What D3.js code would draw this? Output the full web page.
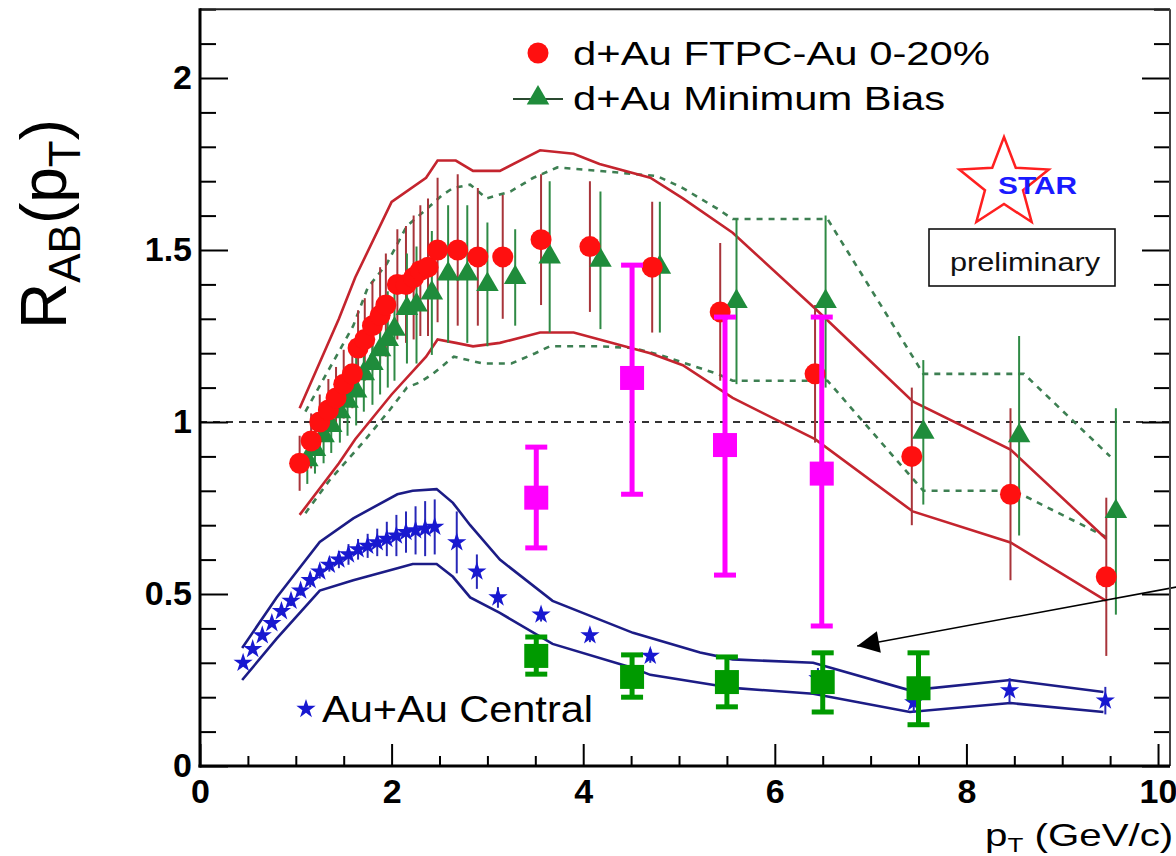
<!DOCTYPE html>
<html><head><meta charset="utf-8">
<script src="https://cdn.jsdelivr.net/npm/d3@7"></script>
<style>body{margin:0;background:#fff}svg{display:block}text{font-family:"Liberation Sans",Arial,Helvetica,sans-serif}</style>
</head><body>
<svg id="c" width="1176" height="856"></svg>
<script>
// ---------- data ----------
// d+Au FTPC-Au 0-20% (red circles)
const redX   = [1.04,1.16,1.25,1.34,1.42,1.50,1.59,1.65,1.72,1.80,1.88,1.94,2.06,2.15,2.23,2.30,2.38,2.48,2.69,2.90,3.16,3.56,4.07,4.72,5.43,6.42,7.43,8.46,9.46];
const redY   = [0.88,0.945,1.00,1.035,1.07,1.11,1.14,1.215,1.24,1.28,1.31,1.34,1.40,1.40,1.42,1.44,1.45,1.50,1.50,1.48,1.48,1.53,1.51,1.45,1.32,1.14,0.90,0.79,0.55];
const redErr = [0.08,0.08,0.08,0.09,0.09,0.10,0.10,0.11,0.12,0.13,0.14,0.15,0.16,0.17,0.18,0.19,0.20,0.21,0.22,0.20,0.18,0.19,0.19,0.19,0.20,0.20,0.20,0.25,0.23];
// red systematic band (solid lines)
const redHiX = [1.04,1.45,1.62,2.0,2.36,2.48,2.67,2.85,3.13,3.55,3.9,4.17,4.7,5.04,5.56,6.42,7.44,8.46,9.46];
const redHi  = [1.04,1.30,1.42,1.64,1.71,1.76,1.76,1.73,1.73,1.79,1.78,1.75,1.71,1.65,1.55,1.33,1.06,0.92,0.66];
const redLoX = [1.04,1.45,1.62,2.0,2.36,2.48,2.67,2.85,3.13,3.55,3.9,4.17,4.7,5.04,5.56,6.42,7.44,8.46,9.46];
const redLo  = [0.73,0.88,0.95,1.08,1.19,1.24,1.23,1.22,1.23,1.26,1.26,1.24,1.20,1.165,1.07,0.95,0.74,0.65,0.48];

// d+Au Minimum Bias (green triangles)
const mbX   = [1.12,1.20,1.29,1.37,1.46,1.54,1.63,1.71,1.80,1.88,1.96,2.03,2.16,2.26,2.42,2.59,2.79,3.00,3.29,3.65,4.18,4.80,5.60,6.53,7.55,8.55,9.56];
const mbY   = [0.89,0.92,0.96,0.99,1.03,1.06,1.09,1.14,1.17,1.21,1.24,1.27,1.33,1.34,1.375,1.43,1.43,1.40,1.42,1.48,1.47,1.45,1.35,1.35,0.97,0.96,0.74];
const mbErr = [0.07,0.07,0.08,0.08,0.09,0.10,0.10,0.11,0.12,0.13,0.14,0.15,0.16,0.17,0.18,0.20,0.20,0.18,0.14,0.22,0.20,0.19,0.24,0.25,0.21,0.29,0.30];
// MB systematic band (dashed lines)
const mbHiX = [1.1,1.6,1.75,1.95,2.16,2.37,2.53,2.64,2.82,2.99,3.24,3.48,3.73,4.17,4.77,5.04,5.4,5.56,6.55,7.55,8.6,9.5];
const mbHi  = [1.03,1.28,1.39,1.46,1.57,1.62,1.66,1.68,1.69,1.65,1.67,1.71,1.74,1.73,1.715,1.68,1.62,1.59,1.59,1.14,1.14,0.90];
const mbLoX = [1.1,1.35,1.7,1.98,2.16,2.3,2.43,2.65,2.95,3.25,3.5,3.65,4.17,4.52,4.8,5.4,5.56,6.55,7.55,8.5,9.5];
const mbLo  = [0.735,0.83,0.94,1.035,1.10,1.116,1.14,1.19,1.17,1.17,1.20,1.22,1.22,1.215,1.195,1.14,1.12,1.12,0.80,0.80,0.66];

// Au+Au Central (blue stars)
const aaX   = [0.45,0.55,0.65,0.75,0.85,0.95,1.05,1.15,1.25,1.35,1.45,1.55,1.65,1.75,1.85,1.95,2.05,2.15,2.25,2.35,2.45,2.68,2.89,3.11,3.56,4.07,4.70,6.45,7.45,8.45,9.45];
const aaY   = [0.30,0.34,0.38,0.415,0.45,0.48,0.51,0.54,0.565,0.585,0.60,0.615,0.63,0.64,0.65,0.66,0.67,0.68,0.685,0.69,0.695,0.65,0.565,0.49,0.44,0.38,0.32,0.255,0.185,0.22,0.19];
const aaErr = [0.01,0.01,0.01,0.01,0.01,0.015,0.015,0.02,0.02,0.02,0.025,0.03,0.03,0.035,0.04,0.05,0.06,0.06,0.07,0.08,0.08,0.09,0.05,0.03,0.02,0.02,0.02,0.03,0.03,0.035,0.04];
const aaHiX = [0.44,0.8,1.25,1.6,2.06,2.22,2.47,2.64,2.82,3.13,3.68,4.52,5.22,5.56,6.4,7.41,8.46,9.43];
const aaHi  = [0.343,0.49,0.651,0.72,0.79,0.80,0.805,0.765,0.70,0.60,0.48,0.387,0.33,0.31,0.30,0.22,0.25,0.215];
const aaLoX = [0.44,0.8,1.25,1.6,2.06,2.22,2.47,2.64,2.82,3.13,3.68,4.52,4.7,5.56,6.4,7.41,8.46,9.43];
const aaLo  = [0.25,0.37,0.51,0.54,0.575,0.587,0.587,0.55,0.49,0.445,0.355,0.285,0.265,0.227,0.21,0.157,0.183,0.157];

// magenta squares
const magX = [3.51,4.51,5.48,6.49];
const magY = [0.78,1.128,0.933,0.85];
const magLo = [0.634,0.79,0.555,0.407];
const magHi = [0.927,1.456,1.305,1.305];
// green squares
const gsqX = [3.51,4.51,5.50,6.50,7.50];
const gsqY = [0.32,0.259,0.244,0.244,0.226];
const gsqLo = [0.267,0.20,0.172,0.157,0.12];
const gsqHi = [0.375,0.323,0.317,0.329,0.329];

// arrow (from off-frame right to tip)
const arrowX = [10.5, 6.86];
const arrowY = [0.536, 0.349];

const yMajor = [0,0.5,1,1.5,2];
const xMajor = [0,2,4,6,8,10];

// ---------- setup ----------
const svg = d3.select("#c");
const x = d3.scaleLinear().domain([0,10.125]).range([200,1170]);
const y = d3.scaleLinear().domain([0,2.2]).range([766,9.2]);
const X0=x(0), X1=x(10.125), Y0=y(0), Y1=y(2.2);

svg.append("defs").append("clipPath").attr("id","clip")
  .append("rect").attr("x",X0).attr("y",Y1).attr("width",X1-X0).attr("height",Y0-Y1);
const plot = svg.append("g").attr("clip-path","url(#clip)");

const zip = (xs,ys)=>xs.map((d,i)=>[d,ys[i]]);
const line = d3.line().x(d=>x(d[0])).y(d=>y(d[1]));

// reference line at 1
plot.append("line").attr("x1",x(0)).attr("x2",x(10.125)).attr("y1",y(1)).attr("y2",y(1))
  .attr("stroke","#333").attr("stroke-width",2).attr("stroke-dasharray","7,6");

// bands
function band(xs,vs,color,w,dash){
  plot.append("path").attr("d",line(zip(xs,vs))).attr("fill","none")
    .attr("stroke",color).attr("stroke-width",w).attr("stroke-dasharray",dash||null);
}
band(mbHiX,mbHi,"#3d7f52",2.6,"6,6");
band(mbLoX,mbLo,"#3d7f52",2.6,"6,6");
band(redHiX,redHi,"#c4242e",2.6);
band(redLoX,redLo,"#c4242e",2.6);
band(aaHiX,aaHi,"#1c1c86",2.6);
band(aaLoX,aaLo,"#1c1c86",2.6);

// error bars
function errs(xs,ys,es,color,w){
  plot.append("g").selectAll("line").data(zip(xs,ys).map((d,i)=>[d[0],d[1],es[i]])).join("line")
    .attr("x1",d=>x(d[0])).attr("x2",d=>x(d[0]))
    .attr("y1",d=>y(d[1]-d[2])).attr("y2",d=>y(d[1]+d[2]))
    .attr("stroke",color).attr("stroke-width",w);
}
errs(redX,redY,redErr,"#a8343a",2);
errs(mbX,mbY,mbErr,"#2f8a45",2);
errs(aaX,aaY,aaErr,"#2828b8",2);

// markers
const tri = d3.symbol().type(d3.symbolTriangle).size(220);
const star = d3.symbol().type(d3.symbolStar).size(115);
plot.append("g").selectAll("path").data(zip(aaX,aaY)).join("path")
  .attr("d",star).attr("transform",d=>`translate(${x(d[0])},${y(d[1])})`).attr("fill","#1818d0");
plot.append("g").selectAll("path").data(zip(mbX,mbY)).join("path")
  .attr("d",tri).attr("transform",d=>`translate(${x(d[0])},${y(d[1])})`).attr("fill","#1f8c3b");
plot.append("g").selectAll("circle").data(zip(redX,redY)).join("circle")
  .attr("cx",d=>x(d[0])).attr("cy",d=>y(d[1])).attr("r",10.5).attr("fill","#ff1010");

// squares with error bars
function squares(xs,ys,lo,hi,color){
  const g = plot.append("g");
  const data = xs.map((d,i)=>({x:d,y:ys[i],lo:lo[i],hi:hi[i]}));
  g.selectAll(".v").data(data).join("line").attr("x1",d=>x(d.x)).attr("x2",d=>x(d.x))
    .attr("y1",d=>y(d.lo)).attr("y2",d=>y(d.hi)).attr("stroke",color).attr("stroke-width",5);
  ["lo","hi"].forEach(k=>{
    g.selectAll(".c"+k).data(data).join("line").attr("x1",d=>x(d.x)-11).attr("x2",d=>x(d.x)+11)
      .attr("y1",d=>y(d[k])).attr("y2",d=>y(d[k])).attr("stroke",color).attr("stroke-width",5);
  });
  g.selectAll("rect").data(data).join("rect").attr("x",d=>x(d.x)-12).attr("y",d=>y(d.y)-12)
    .attr("width",24).attr("height",24).attr("fill",color);
}
squares(magX,magY,magLo,magHi,"#ff00ff");
squares(gsqX,gsqY,gsqLo,gsqHi,"#009a00");

// arrow
svg.append("defs").append("marker").attr("id","ah").attr("viewBox","0 0 10 10")
  .attr("refX",10).attr("refY",5).attr("markerWidth",34).attr("markerHeight",22)
  .attr("markerUnits","userSpaceOnUse").attr("orient","auto")
  .append("path").attr("d","M0,0L10,5L0,10Z").attr("fill","#000");
svg.append("path").attr("d",line(zip(arrowX,arrowY))).attr("stroke","#000").attr("stroke-width",1.5)
  .attr("fill","none").attr("marker-end","url(#ah)");

// ---------- axes ----------
const yMinor = d3.range(0,2.21,0.1).map(v=>+v.toFixed(2)).filter(v=>!yMajor.includes(v));
const xMinor = d3.range(0,10.01,0.5).filter(v=>!xMajor.includes(v));
const fmt = d=>String(d);

function styleAxis(g){ g.select(".domain").remove(); g.selectAll("line").attr("stroke","#000").attr("stroke-width",2);
  g.selectAll("text").attr("font-size",34).attr("font-weight","bold").attr("fill","#000")
   .style("font-family",'"Liberation Sans",Arial,sans-serif'); }

svg.append("g").attr("transform",`translate(${X0},0)`)
  .call(d3.axisLeft(y).tickValues(yMajor).tickSizeInner(-28).tickSizeOuter(0).tickPadding(8).tickFormat(fmt)).call(styleAxis);
svg.append("g").attr("transform",`translate(${X0},0)`)
  .call(d3.axisLeft(y).tickValues(yMinor).tickSizeInner(-16).tickSizeOuter(0).tickFormat("")).call(styleAxis);
svg.append("g").attr("transform",`translate(${X1},0)`)
  .call(d3.axisRight(y).tickValues(yMajor).tickSizeInner(-28).tickSizeOuter(0).tickFormat("")).call(styleAxis);
svg.append("g").attr("transform",`translate(${X1},0)`)
  .call(d3.axisRight(y).tickValues(yMinor).tickSizeInner(-16).tickSizeOuter(0).tickFormat("")).call(styleAxis);
svg.append("g").attr("transform",`translate(0,${Y0})`)
  .call(d3.axisBottom(x).tickValues(xMajor).tickSizeInner(-22).tickSizeOuter(0).tickPadding(13).tickFormat(fmt)).call(styleAxis);
svg.append("g").attr("transform",`translate(0,${Y0})`)
  .call(d3.axisBottom(x).tickValues(xMinor).tickSizeInner(-10).tickSizeOuter(0).tickFormat("")).call(styleAxis);

// frame
svg.append("line").attr("x1",X0).attr("x2",X1).attr("y1",Y1).attr("y2",Y1).attr("stroke","#222").attr("stroke-width",2);
svg.append("line").attr("x1",X1).attr("x2",X1).attr("y1",Y1).attr("y2",Y0).attr("stroke","#444").attr("stroke-width",2);
svg.append("line").attr("x1",X0).attr("x2",X0).attr("y1",Y1-1).attr("y2",Y0+1.5).attr("stroke","#000").attr("stroke-width",3);
svg.append("line").attr("x1",X0-1.5).attr("x2",X1).attr("y1",Y0).attr("y2",Y0).attr("stroke","#000").attr("stroke-width",3);

// ---------- texts ----------
function fitText(sel,target){ sel.attr("textLength",target).attr("lengthAdjust","spacingAndGlyphs"); return sel; }

// legend
const lg = svg.append("g");
lg.append("circle").attr("cx",538).attr("cy",53).attr("r",10.5).attr("fill","#ff1010");
lg.append("line").attr("x1",513).attr("x2",563).attr("y1",99).attr("y2",99).attr("stroke","#2a4a30").attr("stroke-width",2);
lg.append("path").attr("d",tri).attr("transform","translate(538,98)").attr("fill","#1f8c3b");
fitText(lg.append("text").attr("x",573).attr("y",65).attr("font-size",33).text("d+Au FTPC-Au 0-20%"),417);
fitText(lg.append("text").attr("x",573).attr("y",110).attr("font-size",33).text("d+Au Minimum Bias"),372);
lg.append("path").attr("d",star).attr("transform","translate(306,709)").attr("fill","#1818d0");
fitText(lg.append("text").attr("x",322).attr("y",722).attr("font-size",36).text("Au+Au Central"),271);

// STAR logo
const starPts = d3.range(10).map(i=>{const r=i%2?20:47, a=-Math.PI/2+i*Math.PI/5; return [1004+r*Math.cos(a),184+r*Math.sin(a)];});
svg.append("polygon").attr("points",starPts.map(p=>p.join(",")).join(" "))
  .attr("fill","none").attr("stroke","#ff2020").attr("stroke-width",2.5);
fitText(svg.append("text").attr("x",998).attr("y",194).attr("font-size",24).attr("font-weight","bold")
  .attr("fill","#1a1aff").text("STAR"),79);

// preliminary box
svg.append("rect").attr("x",929).attr("y",229).attr("width",186).attr("height",57)
  .attr("fill","#fff").attr("stroke","#111").attr("stroke-width",1.6);
fitText(svg.append("text").attr("x",950).attr("y",271).attr("font-size",25).attr("fill","#111").text("preliminary"),150);

// y title
const yt = svg.append("text").attr("transform","translate(66,224) rotate(-90)").attr("text-anchor","middle")
  .attr("font-size",64).attr("fill","#000");
yt.append("tspan").text("R");
yt.append("tspan").attr("font-size",44).attr("dy",14).text("AB");
yt.append("tspan").attr("dy",-14).text("(p");
yt.append("tspan").attr("font-size",44).attr("dy",14).text("T");
yt.append("tspan").attr("dy",-14).text(")");

// x title
const xt = svg.append("text").attr("transform","translate(985,846) scale(1.3,1)").attr("font-size",31).attr("fill","#000");
xt.append("tspan").text("p");
xt.append("tspan").attr("font-size",20).attr("dy",6).text("T");
xt.append("tspan").attr("dy",-6).text(" (GeV/c)");
</script>
</body></html>
